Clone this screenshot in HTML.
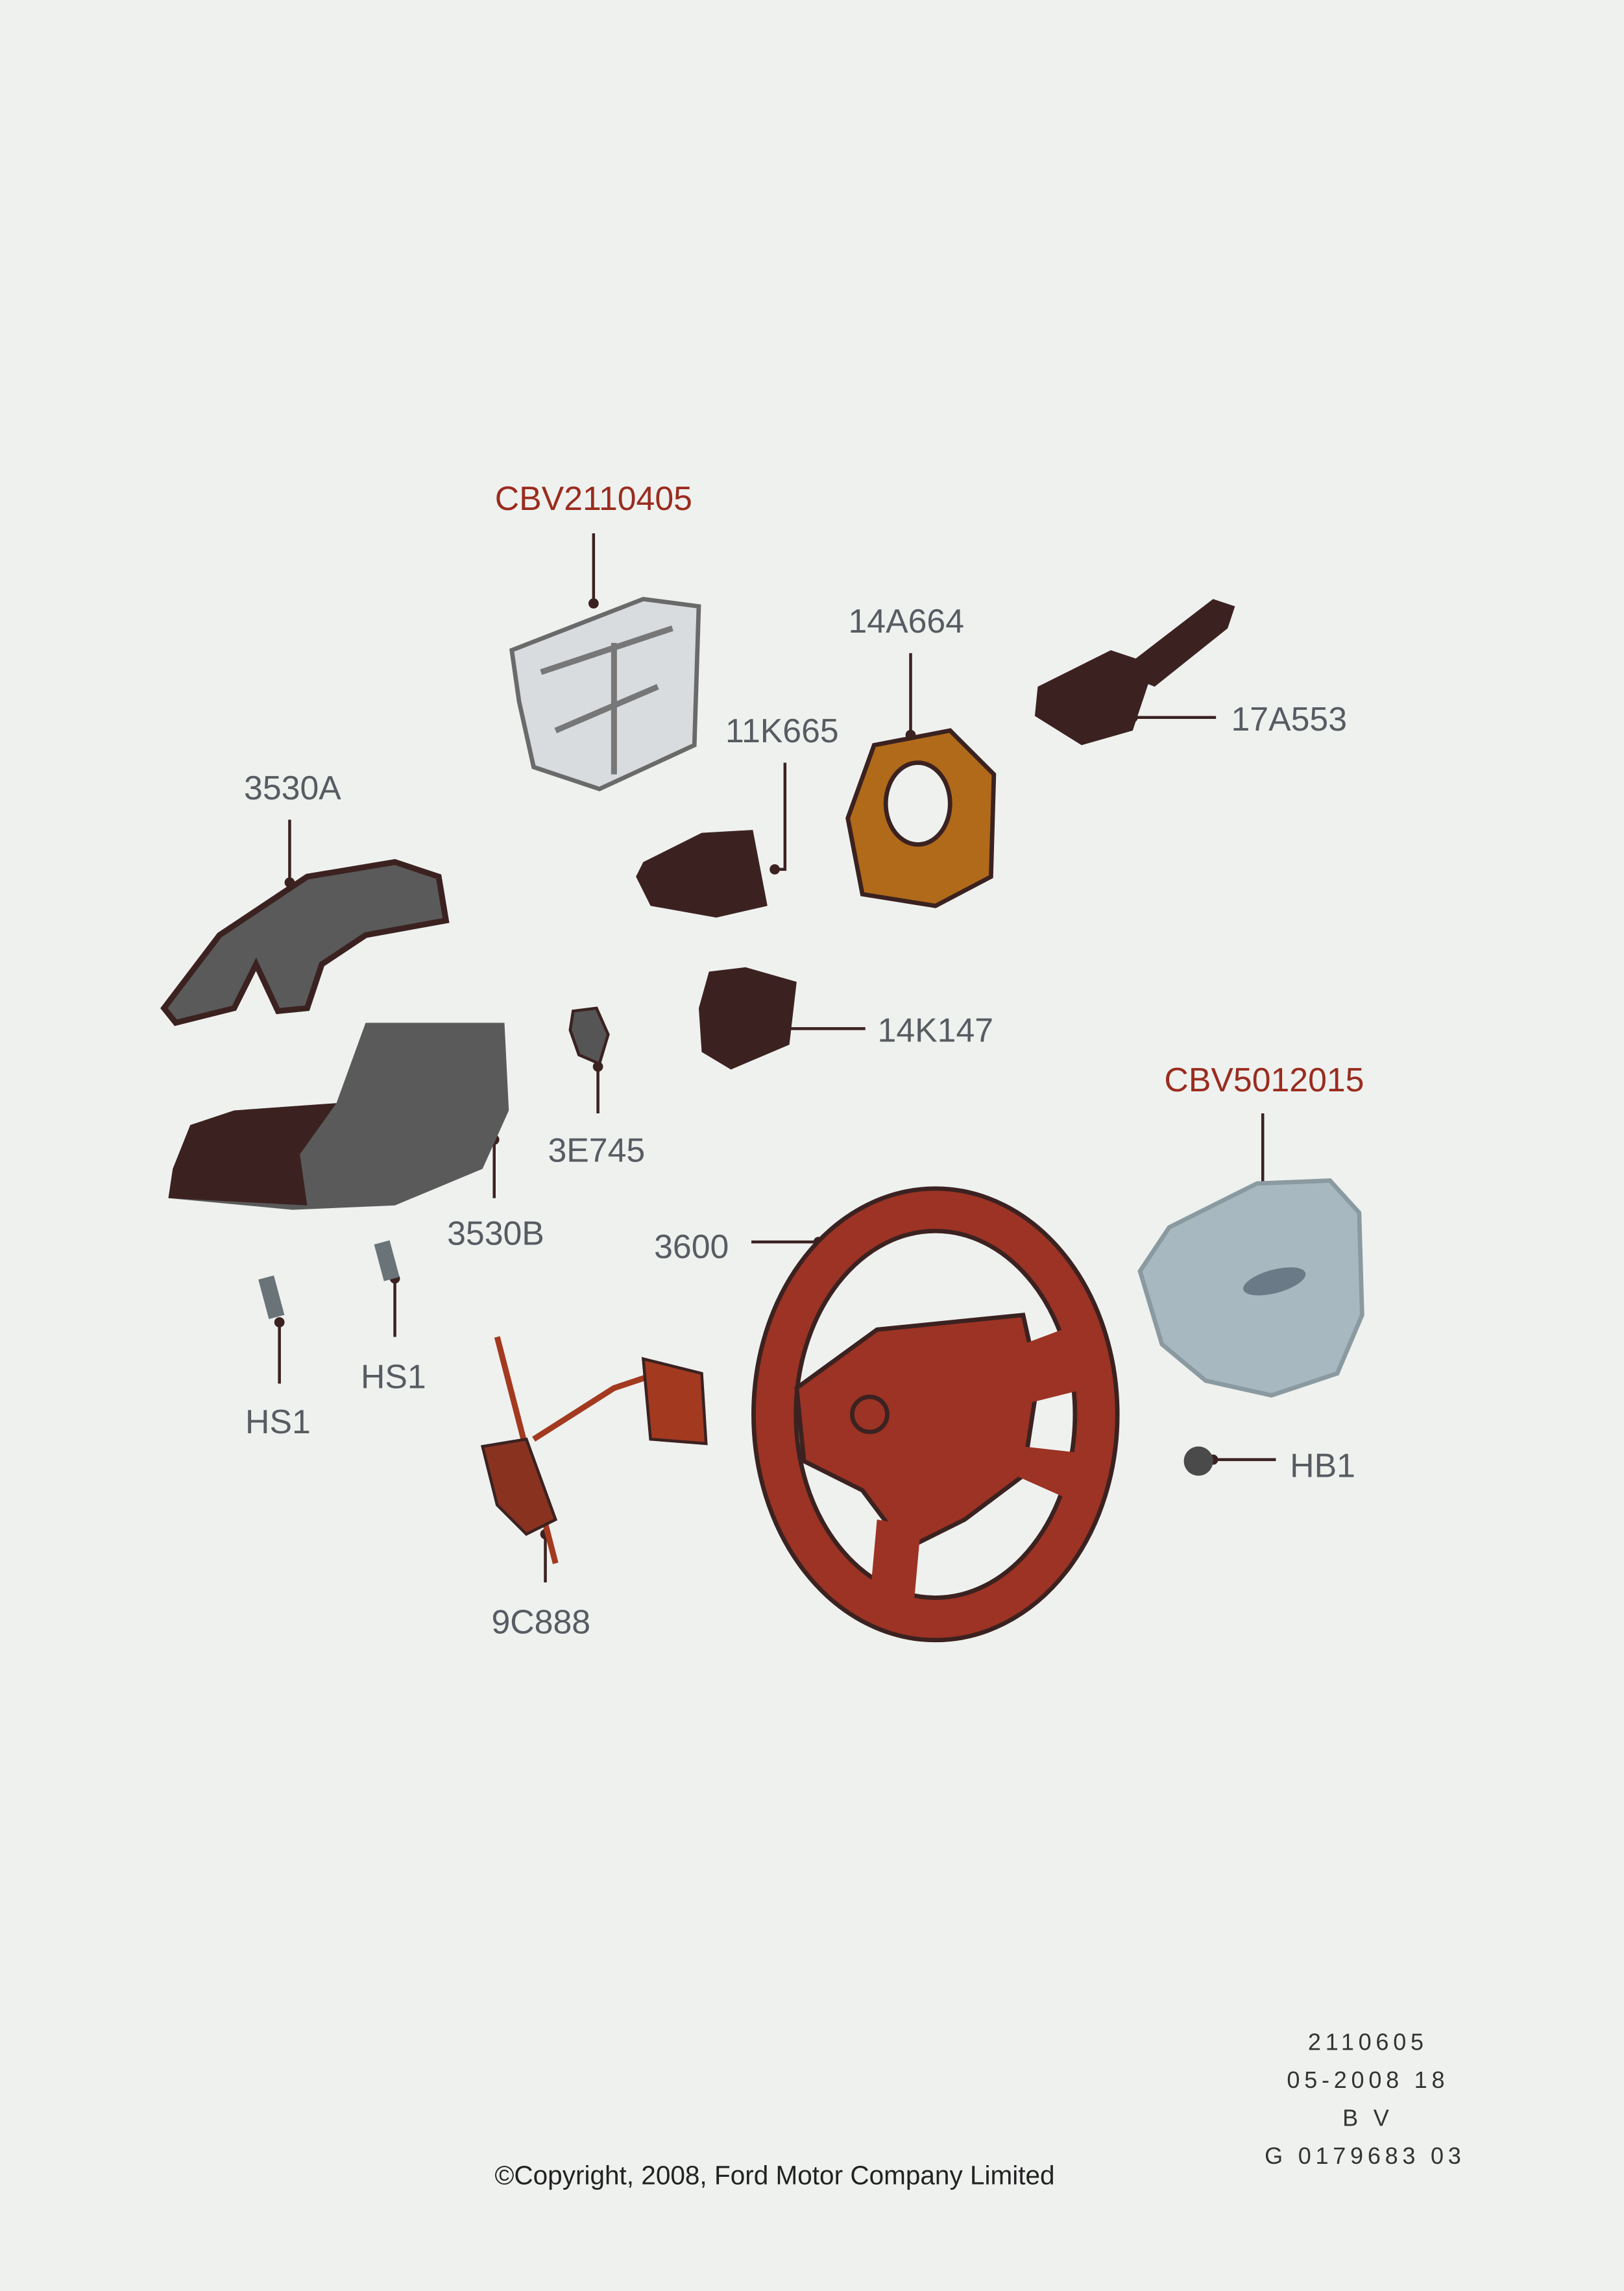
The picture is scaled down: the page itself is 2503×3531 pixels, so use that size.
<!DOCTYPE html>
<html><head><meta charset="utf-8"><style>
html,body{margin:0;padding:0;background:#eff1ef;}
svg{display:block;}
text{font-family:"Liberation Sans",sans-serif;}
</style></head><body>
<svg width="2503" height="3531" viewBox="0 0 1111 1568" xmlns="http://www.w3.org/2000/svg">
<rect width="1111" height="1568" fill="#eff1ef"/>
<g font-size="23" fill="#575c62" text-anchor="middle">
<text x="406" y="349" fill="#9a2c1e">CBV2110405</text>
<text x="620" y="433">14A664</text>
<text x="535" y="508">11K665</text>
<text x="882" y="500">17A553</text>
<text x="200" y="547">3530A</text>
<text x="640" y="713">14K147</text>
<text x="865" y="747" fill="#9a2c1e">CBV5012015</text>
<text x="408" y="795">3E745</text>
<text x="339" y="852">3530B</text>
<text x="473" y="861">3600</text>
<text x="269" y="950">HS1</text>
<text x="190" y="981">HS1</text>
<text x="905" y="1011">HB1</text>
<text x="370" y="1118">9C888</text>
</g>
<g stroke="#3b2220" stroke-width="2" fill="none">
<path d="M406 365V413"/><path d="M623 447V503"/><path d="M537 522V595H527"/>
<path d="M775 491H832"/><path d="M198 561V604"/><path d="M537 704H592"/>
<path d="M864 762V813"/><path d="M409 730V762"/><path d="M338 780V820"/>
<path d="M514 850H560"/><path d="M270 875V915"/><path d="M191 905V947"/>
<path d="M830 999H873"/><path d="M373 1050V1083"/>
</g>
<g fill="#3b2220">
<circle cx="406" cy="413" r="3.5"/><circle cx="623" cy="503" r="3.5"/><circle cx="530" cy="595" r="3.5"/>
<circle cx="775" cy="491" r="3.5"/><circle cx="198" cy="604" r="3.5"/><circle cx="537" cy="704" r="3.5"/>
<circle cx="864" cy="813" r="3.5"/><circle cx="409" cy="730" r="3.5"/><circle cx="338" cy="780" r="3.5"/>
<circle cx="560" cy="850" r="3.5"/><circle cx="270" cy="875" r="3.5"/><circle cx="191" cy="905" r="3.5"/>
<circle cx="830" cy="999" r="3.5"/><circle cx="373" cy="1050" r="3.5"/>
</g>
<!-- bracket CBV2110405 -->
<path d="M350 445L440 410L478 415L475 510L410 540L365 525L355 480Z" fill="#d8dcde" stroke="#6a6a6a" stroke-width="3"/>
<path d="M370 460L460 430M380 500L450 470M420 440V530" stroke="#777" stroke-width="4"/>
<!-- 17A553 -->
<path d="M710 470L760 445L790 455L775 500L740 510L708 490Z" fill="#3b2220"/>
<path d="M765 460L830 410L845 415L840 430L790 470Z" fill="#3b2220"/>
<!-- 14A664 clockspring -->
<path d="M598 510L650 500L680 530L678 600L640 620L590 612L580 560Z" fill="#b06a1a" stroke="#3b2220" stroke-width="3"/>
<ellipse cx="628" cy="550" rx="22" ry="28" fill="#eff1ef" stroke="#3b2220" stroke-width="3"/>
<!-- 11K665 -->
<path d="M440 590L480 570L515 568L525 620L490 628L445 620L435 600Z" fill="#3b2220"/>
<!-- 14K147 -->
<path d="M485 665L510 662L545 672L540 715L500 732L480 720L478 690Z" fill="#3b2220"/>
<!-- 3530A -->
<path d="M112 690L150 640L210 600L270 590L300 600L305 630L250 640L220 660L210 690L190 692L175 660L160 690L120 700Z" fill="#5a5a5a" stroke="#3b2220" stroke-width="4"/>
<!-- 3530B -->
<path d="M118 800L130 770L160 760L230 755L250 700L345 700L348 760L330 800L270 825L200 828L115 820Z" fill="#5a5a5a"/>
<path d="M118 800L130 770L160 760L230 755L205 790L210 825L115 820Z" fill="#3b2220"/>
<!-- 3E745 -->
<path d="M392 692L408 690L416 708L410 728L396 722L390 705Z" fill="#555" stroke="#3b2220" stroke-width="2"/>
<!-- screws -->
<rect x="180" y="874" width="11" height="28" fill="#6a7478" transform="rotate(-15 185 888)"/>
<rect x="259" y="850" width="11" height="26" fill="#6a7478" transform="rotate(-15 264 863)"/>
<!-- 9C888 -->
<path d="M340 915L380 1070M365 985L420 950L450 940" stroke="#a33a1f" stroke-width="4" fill="none"/>
<path d="M330 990L360 985L380 1040L360 1050L340 1030Z" fill="#8a3220" stroke="#3b2220" stroke-width="2"/>
<path d="M440 930L480 940L483 988L445 985Z" fill="#a33a1f" stroke="#3b2220" stroke-width="2"/>
<!-- steering wheel -->
<ellipse cx="640" cy="968" rx="110" ry="140" fill="none" stroke="#3b2220" stroke-width="32"/>
<ellipse cx="640" cy="968" rx="110" ry="140" fill="none" stroke="#9c3324" stroke-width="26"/>
<path d="M545 950L600 910L700 900L710 945L700 1010L660 1040L620 1060L590 1020L550 1000Z" fill="#9c3324" stroke="#3b2220" stroke-width="3"/>
<path d="M700 920L740 905L745 950L705 960Z M700 990L745 995L740 1030L695 1010Z M600 1040L630 1045L625 1100L595 1095Z" fill="#9c3324"/>
<circle cx="595" cy="968" r="12" fill="none" stroke="#3b2220" stroke-width="3"/>
<!-- airbag -->
<path d="M780 870L800 840L860 810L910 808L930 830L932 900L915 940L870 955L825 945L795 920Z" fill="#a8b8c0" stroke="#8a9aa0" stroke-width="3"/>
<ellipse cx="872" cy="877" rx="22" ry="8" fill="#6a7a86" transform="rotate(-15 872 877)"/>
<!-- HB1 -->
<circle cx="820" cy="1000" r="10" fill="#4a4a4a"/>
<!-- footer -->
<g font-size="16" fill="#333" text-anchor="middle" letter-spacing="3">
<text x="936" y="1403">2110605</text>
<text x="936" y="1429">05-2008 18</text>
<text x="936" y="1455">B V</text>
<text x="934" y="1481">G 0179683 03</text>
</g>
<text x="530" y="1495" font-size="18" fill="#222" text-anchor="middle">©Copyright, 2008, Ford Motor Company Limited</text>
</svg>
</body></html>
